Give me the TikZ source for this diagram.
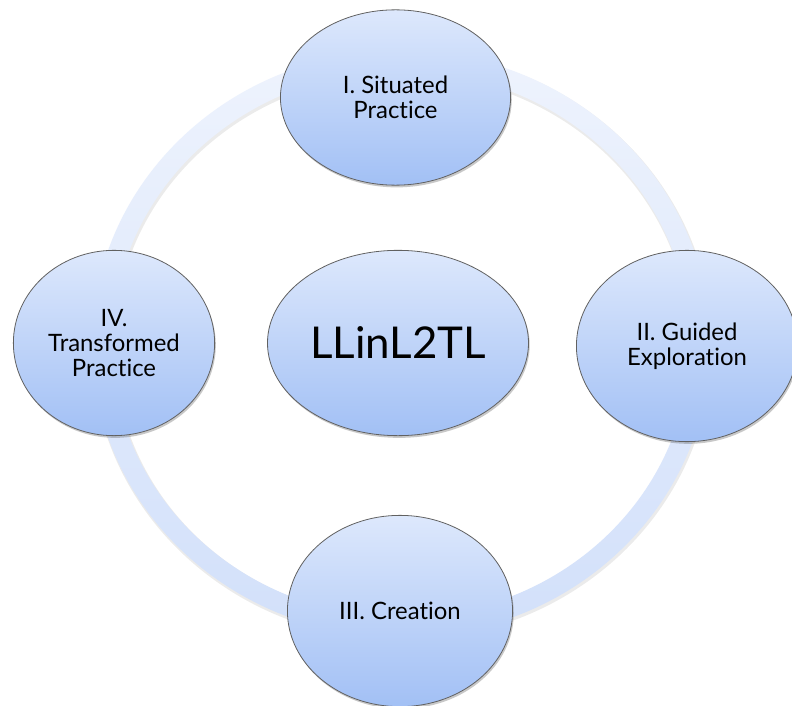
\documentclass[tikz,border=0pt]{standalone}
\usepackage{fontspec}
\setmainfont[Ligatures=NoCommon]{Lato}
\usetikzlibrary{shapes.geometric,shadows}
\definecolor{bTop}{HTML}{DDE8FC}
\definecolor{bBot}{HTML}{A2C0F5}
\definecolor{rTop}{HTML}{EEF3FD}
\definecolor{rBot}{HTML}{D2E0FA}
\begin{document}
\begin{tikzpicture}[x=1bp,y=-1bp,
  bubble/.style={ellipse, draw=black!62, line width=0.8bp, inner sep=0pt,
    top color=bTop, bottom color=bBot, align=center, text=black,
    font=\fontsize{24}{25.5}\selectfont,
    drop shadow={shadow xshift=1.2bp, shadow yshift=-2.2bp, opacity=0.3, fill=black!70}},
  bigtext/.style={font=\fontsize{44}{50}\selectfont}]
\useasboundingbox (0,0) rectangle (792,706);
\clip (0,0) rectangle (792,706);
\fill[white] (0,0) rectangle (792,706);
% ring shadow
\fill[black, opacity=0.08, even odd rule]
  (402,346) ellipse [x radius=310, y radius=294]
  (402,346) ellipse [x radius=288, y radius=272];
% ring
\shade[top color=rTop, bottom color=rBot, even odd rule]
  (401,344) ellipse [x radius=309, y radius=293]
  (401,344) ellipse [x radius=289, y radius=273];
% nodes
\node[bubble, minimum width=231, minimum height=176] (sit) at (395.5,97.5) {I. Situated\\Practice};
\node[bubble, minimum width=222, minimum height=192] (gui) at (687,346) {II. Guided\\Exploration};
\node[bubble, minimum width=226, minimum height=192] (cre) at (400,611) {III. Creation};
\node[bubble, minimum width=202, minimum height=186] (tra) at (114,343) {IV.\\Transformed\\Practice};
\node[bubble, bigtext, minimum width=262, minimum height=186] (core) at (398,343) {LLinL2TL};
\end{tikzpicture}
\end{document}
